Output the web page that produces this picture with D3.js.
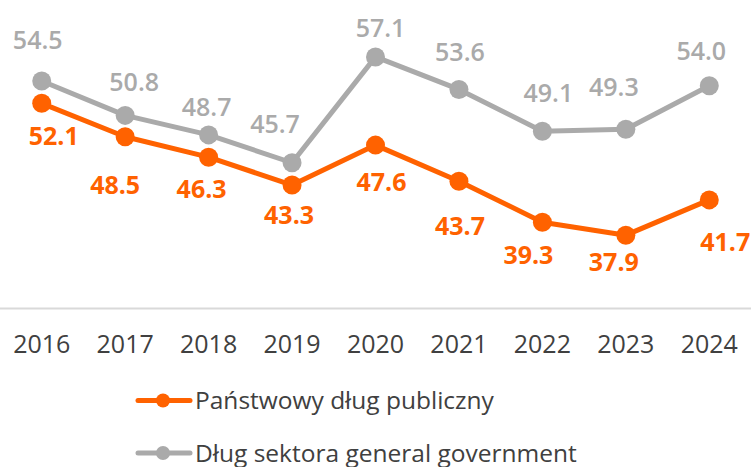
<!DOCTYPE html>
<html>
<head>
<meta charset="utf-8">
<script src="https://cdn.jsdelivr.net/npm/d3@7"></script>
<style>
  html, body { margin: 0; padding: 0; background: #fff; }
  svg { display: block; font-family: "Open Sans", "Noto Sans", sans-serif; }
</style>
</head>
<body>
<svg id="chart" width="751" height="467"></svg>
<script>
// Years on the x axis
const years = ["2016", "2017", "2018", "2019", "2020", "2021", "2022", "2023", "2024"];
// State public debt, % of GDP
const publicDebt = [52.1, 48.5, 46.3, 43.3, 47.6, 43.7, 39.3, 37.9, 41.7];
// General government sector debt, % of GDP
const ggDebt = [54.5, 50.8, 48.7, 45.7, 57.1, 53.6, 49.1, 49.3, 54.0];
// Legend entries
const seriesNames = ["Państwowy dług publiczny", "Dług sektora general government"];

const W = 751, H = 467;
const ORANGE = "#ff6200", GREY = "#aaaaaa", TEXT = "#404040";

const svg = d3.select("#chart");

const x = d3.scalePoint().domain(years).range([0, W]).padding(0.5);
const y = d3.scaleLinear().domain([30, 60]).range([308.5, 30]);

// baseline axis
svg.append("line")
  .attr("x1", 0).attr("x2", W)
  .attr("y1", y(30)).attr("y2", y(30))
  .attr("stroke", "#d9d9d9").attr("stroke-width", 2);

// year labels
svg.append("g").selectAll("text").data(years).join("text")
  .attr("x", d => x(d)).attr("y", 353)
  .attr("text-anchor", "middle")
  .attr("font-size", 25).attr("fill", TEXT)
  .text(d => d);

const line = d3.line().x((d, i) => x(years[i])).y(d => y(d));

// hand-tuned label nudges (dx, dy) from each point
const ggNudge = [[-4,-41],[9,-33],[-2,-28],[-17,-39],[5,-29],[1,-37],[6,-38],[-12,-42],[-8,-35]];
const pdNudge = [[12,33],[-10,48],[-7,32],[-3,30],[6,37],[1,45],[-14,33],[-12,27],[16,42]];

function drawSeries(values, color, nudge, weight) {
  const g = svg.append("g");
  g.append("path").datum(values)
    .attr("d", line).attr("fill", "none")
    .attr("stroke", color).attr("stroke-width", 5)
    .attr("stroke-linejoin", "round");
  g.selectAll("circle").data(values).join("circle")
    .attr("cx", (d, i) => x(years[i])).attr("cy", d => y(d))
    .attr("r", 9.5).attr("fill", color);
  g.selectAll("text").data(values).join("text")
    .attr("x", (d, i) => x(years[i]) + nudge[i][0])
    .attr("y", (d, i) => y(d) + nudge[i][1])
    .attr("dy", "0.36em")
    .attr("text-anchor", "middle")
    .attr("font-size", 25).attr("font-weight", weight)
    .attr("fill", color)
    .text(d => d.toFixed(1));
}

drawSeries(ggDebt, GREY, ggNudge, 600);
drawSeries(publicDebt, ORANGE, pdNudge, 700);

// legend
const legendColors = [ORANGE, GREY];
const legendY = [400.5, 453];
const lg = svg.append("g");
seriesNames.forEach((name, i) => {
  const row = lg.append("g").attr("transform", `translate(0,${legendY[i]})`);
  row.append("line").attr("x1", 138).attr("x2", 190).attr("y1", 0).attr("y2", 0)
    .attr("stroke", legendColors[i]).attr("stroke-width", 5).attr("stroke-linecap", "round");
  row.append("circle").attr("cx", 163).attr("cy", 0).attr("r", 7).attr("fill", legendColors[i]);
  row.append("text").attr("x", 195).attr("y", 0).attr("dy", "0.36em")
    .attr("font-size", 24.5).attr("fill", TEXT).text(name);
});
</script>
</body>
</html>
